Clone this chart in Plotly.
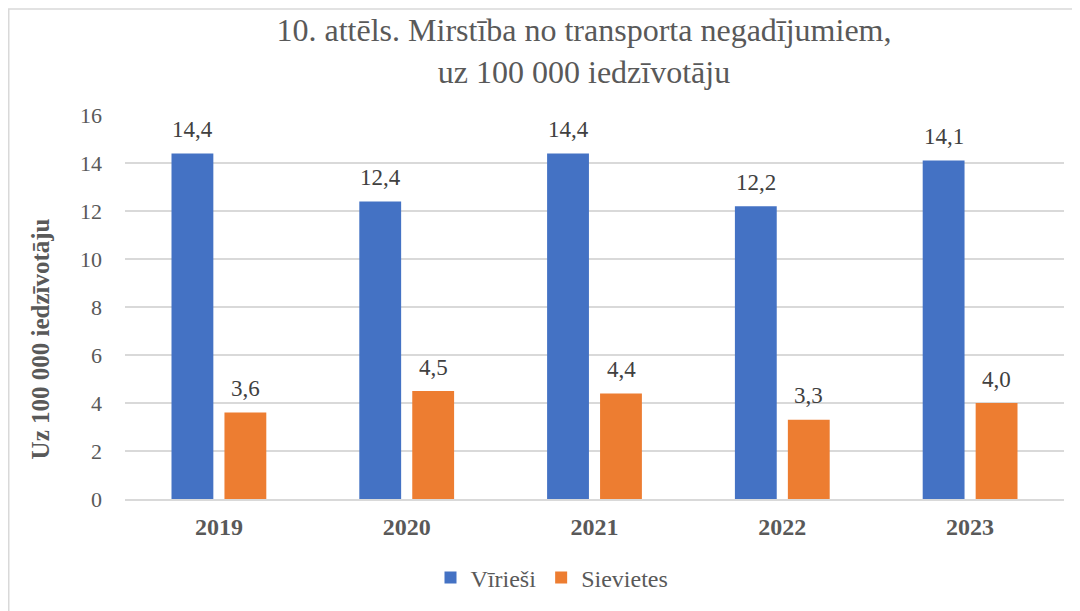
import plotly.graph_objects as go

years = ["2019", "2020", "2021", "2022", "2023"]
viriesi = [14.4, 12.4, 14.4, 12.2, 14.1]
sievietes = [3.6, 4.5, 4.4, 3.3, 4.0]
series_names = ["Vīrieši", "Sievietes"]
colors = ["#4472C4", "#ED7D31"]
yticks = [0, 2, 4, 6, 8, 10, 12, 14, 16]

SERIF = "Liberation Serif"
# The page body has an 8px default margin, so the figure is sized to fit
W, H = 1072, 603
ML, MR, MT, MB = 117, 16, 107, 111
PW = W - ML - MR
PH = H - MT - MB


def fmt(v):
    return f"{v:.1f}".replace(".", ",")


fig = go.Figure()
for name, vals, col in zip(series_names, [viriesi, sievietes], colors):
    fig.add_trace(go.Bar(
        x=years, y=vals, name=name,
        marker=dict(color=col, line=dict(width=0)),
    ))

# data labels above the bars (x given as category index)
for vals, xs in zip([viriesi, sievietes], [-26.5, 26.5]):
    for i, v in enumerate(vals):
        fig.add_annotation(
            x=i, y=v, xref="x", yref="y", text=fmt(v),
            showarrow=False, xshift=xs, yshift=24,
            xanchor="center", yanchor="middle",
            font=dict(family=SERIF, size=23, color="#404040"),
        )

fig.update_layout(
    width=W, height=H,
    margin=dict(l=ML, r=MR, t=MT, b=MB),
    paper_bgcolor="white", plot_bgcolor="white",
    barmode="group", bargap=0.436, bargroupgap=0.21,
    font=dict(family=SERIF, color="#595959"),
    title=dict(
        text="10. attēls. Mirstība no transporta negadījumiem,<br>uz 100 000 iedzīvotāju",
        font=dict(family=SERIF, size=32, color="#595959"),
        x=576 / W, xanchor="center", xref="container",
        y=1 - 33 / H, yanchor="middle", yref="container",
    ),
    legend=dict(
        orientation="h", x=(544 - ML) / PW, xanchor="center",
        y=-(570 - (H - MB)) / PH, yanchor="middle",
        font=dict(family=SERIF, size=24, color="#595959"),
        itemwidth=30, traceorder="normal",
    ),
    showlegend=True,
)

fig.update_yaxes(
    range=[0, 16], tickvals=yticks,
    showgrid=True, gridcolor="#D9D9D9", gridwidth=1.5,
    zeroline=False, showline=False,
    tickfont=dict(family=SERIF, size=22, color="#595959"),
    ticks="", ticklabelstandoff=22,
)
fig.update_xaxes(
    type="category", categoryorder="array", categoryarray=years,
    range=[-0.5, len(years) - 0.5],
    showline=True, linecolor="#D9D9D9", linewidth=1.5,
    tickfont=dict(family=SERIF, size=24, color="#595959", weight="bold"),
    ticks="", ticklabelstandoff=5,
)

fig.add_annotation(
    text="<b>Uz 100 000 iedzīvotāju</b>",
    xref="paper", yref="paper",
    x=(32 - ML) / PW, y=((H - MB) - 332) / PH,
    xanchor="center", yanchor="middle", textangle=-90,
    showarrow=False,
    font=dict(family=SERIF, size=25, color="#595959"),
)

# chart border (extends beyond right/bottom edges as in the reference)
fig.add_shape(
    type="rect", xref="paper", yref="paper",
    x0=(0.75 - ML) / PW, x1=(W + 5 - ML) / PW,
    y0=-(H + 5 - (H - MB)) / PH, y1=((H - MB) - 0.75) / PH,
    line=dict(color="#D9D9D9", width=1.5), fillcolor="rgba(0,0,0,0)",
    layer="below",
)

fig.write_html("out.html")
